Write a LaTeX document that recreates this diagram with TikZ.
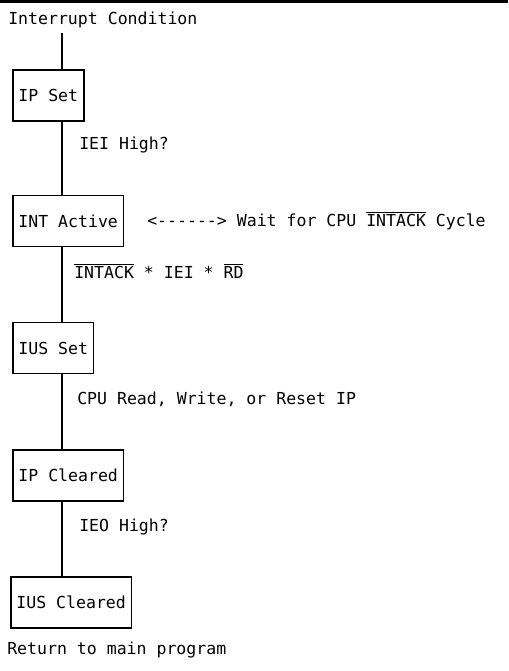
\documentclass[tikz,border=0pt]{standalone}
\usepackage{fontspec}
\setmonofont{DejaVu Sans Mono}
\newcommand{\olbar}[1]{$\overline{\mbox{#1}}$}
\begin{document}
\begin{tikzpicture}[x=0.75pt,y=-0.75pt,
  every node/.style={font=\ttfamily\fontsize{12.4pt}{14pt}\selectfont, inner sep=0pt},
  stepbox/.style={draw, line width=1.2pt, minimum height=38pt, inner xsep=4.2pt, anchor=west},
  lbl/.style={anchor=base west},
  conn/.style={line width=1.2pt}]
\useasboundingbox (0,0) rectangle (508,671);
\draw[line width=2.2pt] (0,1.5) -- (508,1.5);
\coordinate (sp) at (62,0);
\node[lbl] (cond) at (8,24) {Interrupt Condition};
\coordinate (start) at (62,33);
\node[stepbox] (ipset) at (12,95.5) {IP Set};
\node[stepbox] (intact) at (12,221) {INT Active};
\node[stepbox] (iusset) at (12,348) {IUS Set};
\node[stepbox] (ipclr) at (12,475.5) {IP Cleared};
\node[stepbox] (iusclr) at (10,602.5) {IUS Cleared};
\node[lbl] (iei) at (79,149) {IEI High?};
\node[lbl] (wait) at (147,226) {<------> Wait for CPU \olbar{INTACK} Cycle};
\node[lbl] (ack) at (74,278) {\olbar{INTACK} * IEI * \olbar{RD}};
\node[lbl] (cpu) at (77,404) {CPU Read, Write, or Reset IP};
\node[lbl] (ieo) at (79,531) {IEO High?};
\node[lbl] (ret) at (7,654) {Return to main program};
\draw[conn] (start) -- (ipset.north -| sp);
\draw[conn] (ipset.south -| sp) -- (intact.north -| sp);
\draw[conn] (intact.south -| sp) -- (iusset.north -| sp);
\draw[conn] (iusset.south -| sp) -- (ipclr.north -| sp);
\draw[conn] (ipclr.south -| sp) -- (iusclr.north -| sp);
\end{tikzpicture}
\end{document}
